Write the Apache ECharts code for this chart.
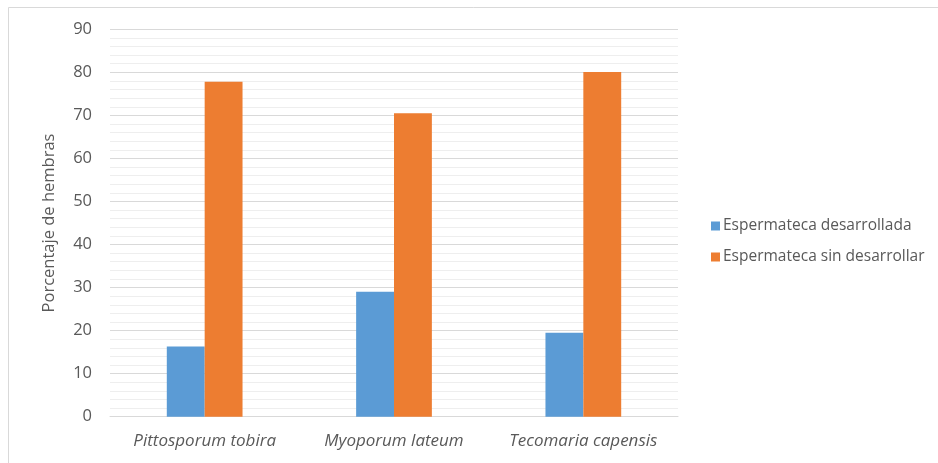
<!DOCTYPE html>
<html>
<head>
<meta charset="utf-8">
<script src="https://cdn.jsdelivr.net/npm/echarts@6/dist/echarts.min.js"></script>
<style>
  html, body { margin: 0; padding: 0; background: #ffffff; }
  #chart { width: 938px; height: 463px; }
</style>
</head>
<body>
<div id="chart"></div>
<script>
// Species sampled
var categories = ['Pittosporum tobira', 'Myoporum lateum', 'Tecomaria capensis'];
// Percentage of females per spermatheca state
var desarrollada = [16.3, 29.0, 19.5];
var sinDesarrollar = [77.8, 70.5, 80.1];
var seriesNames = ['Espermateca desarrollada', 'Espermateca sin desarrollar'];

var textColor = '#595959';
var fontFamily = '"Open Sans", "DejaVu Sans", sans-serif';

var chart = echarts.init(document.getElementById('chart'), null, { renderer: 'canvas' });

chart.setOption({
  animation: false,
  backgroundColor: '#ffffff',
  textStyle: { fontFamily: fontFamily, color: textColor },
  graphic: [{
    type: 'rect',
    shape: { x: 8.5, y: 7.5, width: 940, height: 470 },
    style: { fill: 'none', stroke: '#d9d9d9', lineWidth: 1 },
    silent: true
  }],
  grid: { left: 110, right: 260, top: 29.3, bottom: 46.3 },
  legend: {
    orient: 'vertical',
    left: 706,
    top: 213,
    itemWidth: 9,
    itemHeight: 9,
    itemGap: 15,
    icon: 'rect',
    data: seriesNames,
    textStyle: { color: textColor, fontSize: 15.5, fontFamily: fontFamily, lineHeight: 16, padding: [0, 0, 0, -2] }
  },
  xAxis: {
    type: 'category',
    data: categories,
    axisLine: { show: true, lineStyle: { color: '#d9d9d9', width: 1 } },
    axisTick: { show: false },
    axisLabel: {
      color: textColor, fontSize: 17, fontStyle: 'italic', margin: 16,
      fontFamily: fontFamily, interval: 0, hideOverlap: false
    }
  },
  yAxis: {
    type: 'value',
    min: 0,
    max: 90,
    interval: 10,
    name: 'Porcentaje de hembras',
    nameLocation: 'middle',
    nameGap: 52,
    nameTextStyle: { color: textColor, fontSize: 16.5, fontFamily: fontFamily },
    axisLine: { show: false },
    axisTick: { show: false },
    axisLabel: { color: textColor, fontSize: 16.5, margin: 18, fontFamily: fontFamily },
    splitLine: { show: true, lineStyle: { color: '#d9d9d9', width: 1 } },
    minorTick: { show: false, splitNumber: 5 },
    minorSplitLine: { show: true, lineStyle: { color: '#eeeeee', width: 1 } }
  },
  series: [
    {
      name: seriesNames[0],
      type: 'bar',
      data: desarrollada,
      barWidth: '20%',
      barGap: '0%',
      itemStyle: { color: '#5B9BD5' }
    },
    {
      name: seriesNames[1],
      type: 'bar',
      data: sinDesarrollar,
      barWidth: '20%',
      barGap: '0%',
      itemStyle: { color: '#ED7D31' }
    }
  ]
});
</script>
</body>
</html>
